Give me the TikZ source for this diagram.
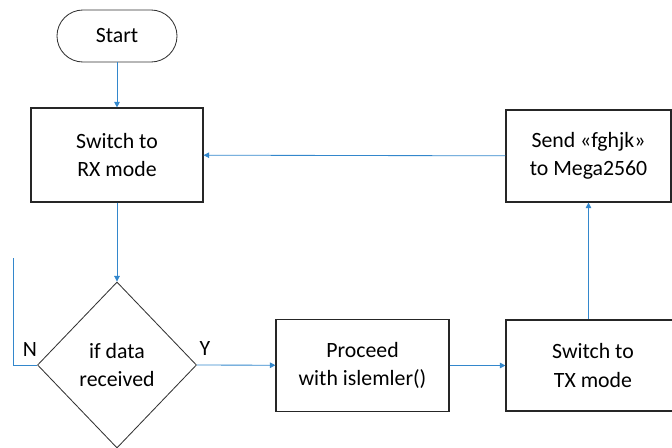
\documentclass[tikz,border=0pt]{standalone}
\usepackage{fontspec}
\setmainfont{Carlito}
\usetikzlibrary{shapes.geometric,arrows.meta}

\tikzset{
  box/.style={draw=black!85, line width=0.8pt, align=center, minimum width=4.3cm, minimum height=2.35cm},
  flow/.style={draw=blue!45!cyan!60!gray, line width=0.6pt, -{Triangle[width=4pt,length=4pt]}},
  plain/.style={draw=blue!45!cyan!60!gray, line width=0.6pt}
}

\begin{document}
\begin{tikzpicture}[x=0.025cm, y=-0.025cm, font=\fontsize{15.5}{20}\selectfont]

\useasboundingbox (0,0) rectangle (672,448);

\node[draw=black!80, line width=0.6pt, rounded corners=0.65cm, minimum width=3cm, minimum height=1.3cm] (start) at (117,36) {Start};

\node[box] (rx) at (117,155) {Switch to\\RX mode};
\node[box, minimum width=4.125cm, minimum height=2.3cm] (send) at (588.5,156) {Send «fghjk»\\to Mega2560};

\node[draw=black!80, line width=0.6pt, diamond, inner sep=0pt, minimum width=3.975cm, minimum height=4.15cm, align=center] (check) at (117,365) {if data\\received};

\node[box, minimum width=4.325cm, minimum height=2.3cm] (proc) at (362.5,365.5) {Proceed\\with islemler()};
\node[box, minimum width=4.35cm, minimum height=2.275cm] (tx) at (593,365.5) {Switch to\\TX mode};

\coordinate (nend) at (13,258);

\draw[flow] (start) -- (rx);
\draw[flow] (rx) -- (check);
\draw[flow] (send) -- (rx);
\draw[flow] (check.east) -- (proc);
\draw[flow] (proc) -- (tx);
\draw[flow] (tx.north -| send.south) -- (send.south);
\draw[plain] (check.west) -- (nend |- check.west) -- (nend);

\node at (30,350) {N};
\node at (205,349) {Y};

\end{tikzpicture}
\end{document}
